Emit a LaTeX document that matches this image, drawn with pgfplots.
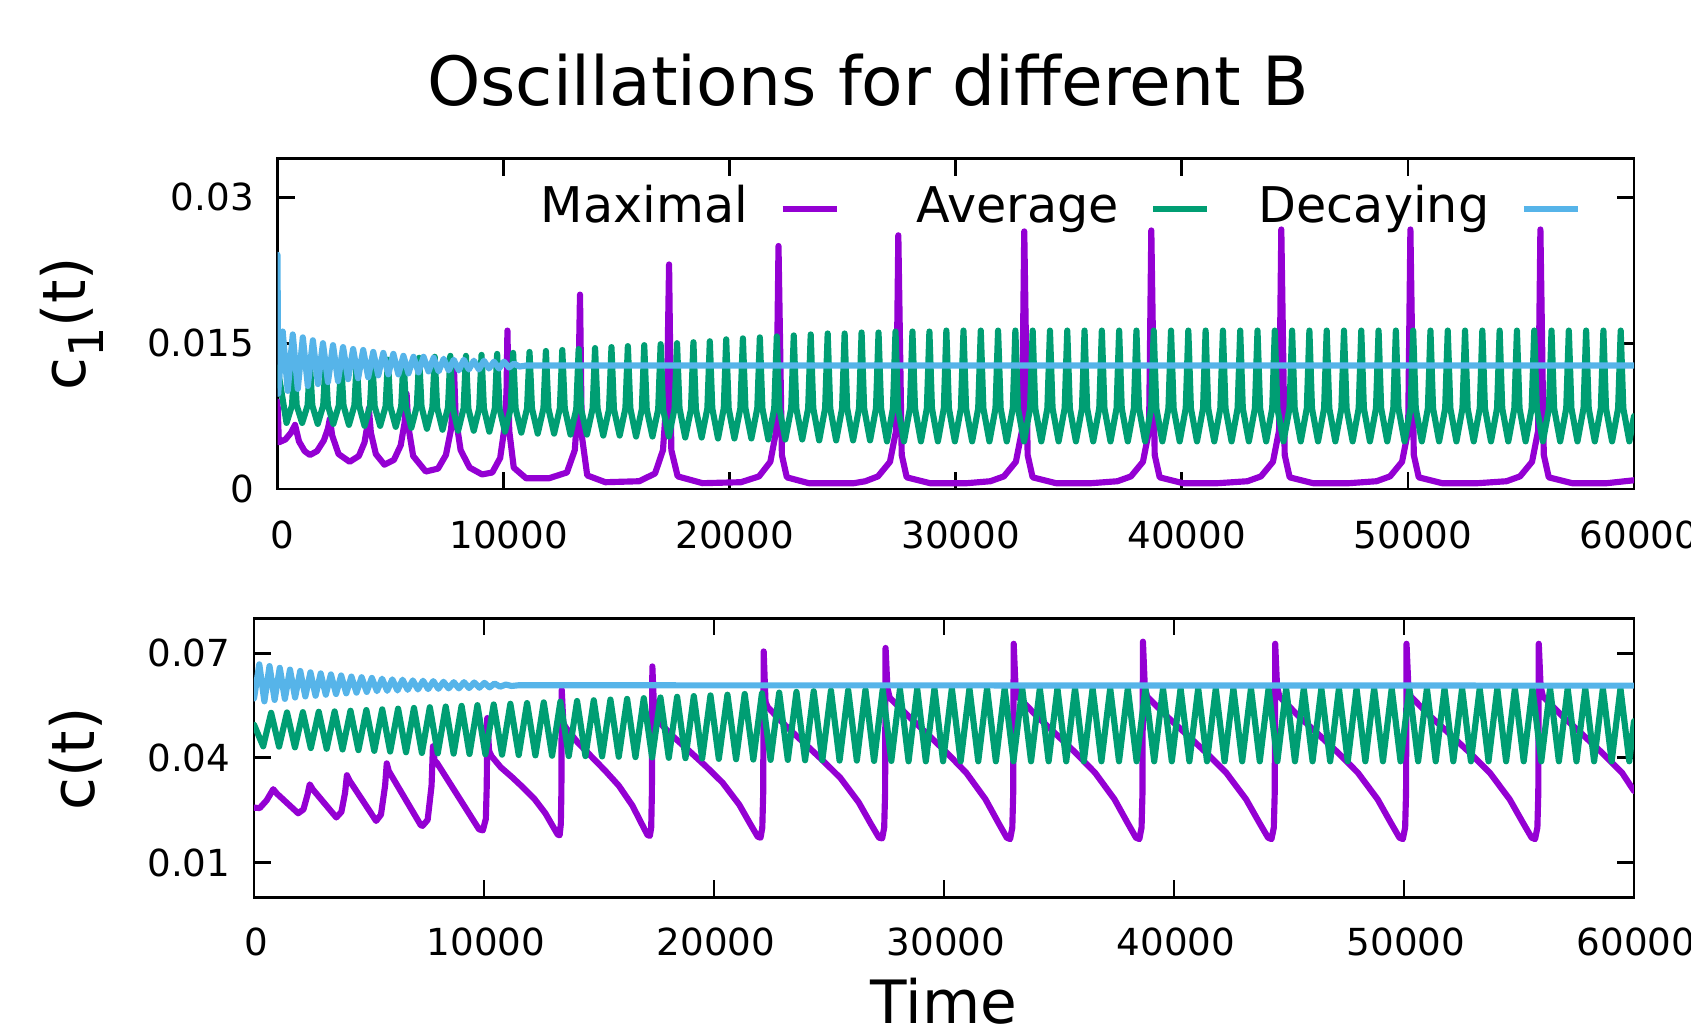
\documentclass[border=0pt]{standalone}
\usepackage{fontspec}
\setmainfont{DejaVu Sans}
\usepackage{pgfplots}
\pgfplotsset{compat=1.18}
\usepackage{pgfplotstable}
\definecolor{cMax}{RGB}{148,0,211}
\definecolor{cAvg}{RGB}{0,158,115}
\definecolor{cDec}{RGB}{86,180,233}

% ---------------- top panel: c1(t) ----------------
\pgfplotstableread[row sep=\\]{t y\\
0 0.0090\\ 60 0.0048\\ 350 0.0051\\ 600 0.0058\\ 776 0.0066\\ 950 0.0049\\ 1200 0.0039\\ 1435 0.0035\\
1750 0.0039\\ 2050 0.0050\\ 2230 0.0062\\ 2313 0.0072\\ 2420 0.0055\\ 2700 0.0036\\ 3192 0.0028\\
3600 0.0034\\ 3850 0.0048\\ 3980 0.0066\\ 4041 0.0083\\ 4130 0.0058\\ 4350 0.0036\\ 4729 0.0025\\
5150 0.0030\\ 5450 0.0045\\ 5620 0.0068\\ 5710 0.0098\\ 5790 0.0064\\ 6000 0.0034\\ 6559 0.0018\\
7100 0.0021\\ 7450 0.0035\\ 7680 0.0062\\ 7760 0.0090\\ 7804 0.0125\\ 7880 0.0074\\ 8100 0.0040\\
8500 0.0022\\ 9048 0.0015\\ 9500 0.0017\\ 9850 0.0032\\ 10050 0.0065\\ 10130 0.0100\\ 10170 0.0163\\
10250 0.0060\\ 10450 0.0022\\ 11000 0.0011\\ 12000 0.0011\\ 12800 0.0017\\ 13150 0.0040\\ 13300 0.0091\\
13380 0.0200\\ 13460 0.0055\\ 13700 0.0014\\ 14500 0.0007\\ 16000 0.0008\\ 16700 0.0016\\ 17050 0.0040\\
17230 0.0100\\ 17320 0.0231\\ 17420 0.0040\\ 17700 0.0013\\ 18800 0.0006\\ 20500 0.0007\\ 21300 0.0013\\
21800 0.0028\\ 22060 0.0060\\ 22160 0.0250\\ 22310 0.0035\\ 22530 0.0012\\ 23500 0.0006\\ 25500 0.0006\\
26000 0.0008\\ 26560 0.0013\\ 27090 0.0028\\ 27360 0.0060\\ 27460 0.0261\\ 27610 0.0035\\ 27830 0.0012\\
28860 0.0006\\ 30500 0.0006\\ 31530 0.0008\\ 32130 0.0013\\ 32660 0.0028\\ 32930 0.0060\\ 33030 0.0265\\
33180 0.0035\\ 33400 0.0012\\ 34430 0.0006\\ 36000 0.0006\\ 37150 0.0008\\ 37750 0.0013\\ 38280 0.0028\\
38550 0.0060\\ 38650 0.0266\\ 38800 0.0035\\ 39020 0.0012\\ 40050 0.0006\\ 41600 0.0006\\ 42900 0.0008\\
43500 0.0013\\ 44030 0.0028\\ 44300 0.0060\\ 44400 0.0267\\ 44550 0.0035\\ 44770 0.0012\\ 45800 0.0006\\
47400 0.0006\\ 48610 0.0008\\ 49210 0.0013\\ 49740 0.0028\\ 50010 0.0060\\ 50110 0.0267\\ 50260 0.0035\\
50480 0.0012\\ 51510 0.0006\\ 53100 0.0006\\ 54360 0.0008\\ 54960 0.0013\\ 55490 0.0028\\ 55760 0.0060\\
55860 0.0267\\ 56010 0.0035\\ 56230 0.0012\\ 57260 0.0006\\ 58800 0.0006\\ 60000 0.0009\\
}\topmax

\pgfplotstableread[row sep=\\]{t y\\
0 0.0125\\
400 0.0068\\ 642 0.0086\\ 745 0.0129\\ 849 0.0086\\
1090 0.0068\\ 1332 0.0086\\ 1435 0.0129\\ 1539 0.0086\\
1780 0.0067\\ 2022 0.0086\\ 2125 0.0130\\ 2229 0.0086\\
2470 0.0067\\ 2712 0.0086\\ 2815 0.0130\\ 2919 0.0086\\
3160 0.0066\\ 3402 0.0086\\ 3505 0.0131\\ 3609 0.0086\\
3850 0.0065\\ 4092 0.0085\\ 4195 0.0132\\ 4299 0.0085\\
4540 0.0065\\ 4782 0.0085\\ 4885 0.0133\\ 4989 0.0085\\
5230 0.0064\\ 5472 0.0085\\ 5575 0.0134\\ 5679 0.0085\\
5920 0.0063\\ 6162 0.0085\\ 6265 0.0135\\ 6369 0.0085\\
6610 0.0062\\ 6852 0.0084\\ 6955 0.0136\\ 7059 0.0084\\
7300 0.0061\\ 7542 0.0084\\ 7645 0.0137\\ 7749 0.0084\\
7990 0.0060\\ 8232 0.0083\\ 8335 0.0137\\ 8439 0.0083\\
8680 0.0060\\ 8922 0.0083\\ 9025 0.0138\\ 9129 0.0083\\
9370 0.0059\\ 9612 0.0083\\ 9715 0.0139\\ 9819 0.0083\\
10060 0.0059\\ 10314 0.0083\\ 10422 0.0140\\ 10531 0.0083\\
10785 0.0058\\ 11039 0.0083\\ 11147 0.0141\\ 11256 0.0083\\
11510 0.0057\\ 11764 0.0083\\ 11872 0.0142\\ 11981 0.0083\\
12235 0.0057\\ 12489 0.0083\\ 12597 0.0143\\ 12706 0.0083\\
12960 0.0056\\ 13214 0.0082\\ 13322 0.0144\\ 13431 0.0082\\
13685 0.0056\\ 13939 0.0083\\ 14047 0.0145\\ 14156 0.0083\\
14410 0.0055\\ 14664 0.0082\\ 14772 0.0146\\ 14881 0.0082\\
15135 0.0055\\ 15389 0.0083\\ 15497 0.0147\\ 15606 0.0083\\
15860 0.0054\\ 16114 0.0082\\ 16222 0.0148\\ 16331 0.0082\\
16585 0.0054\\ 16839 0.0082\\ 16947 0.0149\\ 17056 0.0082\\
17310 0.0054\\ 17564 0.0083\\ 17672 0.0150\\ 17781 0.0083\\
18035 0.0053\\ 18289 0.0082\\ 18397 0.0151\\ 18506 0.0082\\
18760 0.0053\\ 19014 0.0083\\ 19122 0.0152\\ 19231 0.0083\\
19485 0.0052\\ 19739 0.0083\\ 19847 0.0154\\ 19956 0.0083\\
20210 0.0052\\ 20472 0.0083\\ 20585 0.0155\\ 20698 0.0083\\
20960 0.0052\\ 21222 0.0083\\ 21335 0.0156\\ 21448 0.0083\\
21710 0.0051\\ 21972 0.0083\\ 22085 0.0157\\ 22198 0.0083\\
22460 0.0051\\ 22722 0.0083\\ 22835 0.0158\\ 22948 0.0083\\
23210 0.0051\\ 23472 0.0083\\ 23585 0.0159\\ 23698 0.0083\\
23960 0.0050\\ 24222 0.0083\\ 24335 0.0160\\ 24448 0.0083\\
24710 0.0050\\ 24972 0.0083\\ 25085 0.0160\\ 25198 0.0083\\
25460 0.0050\\ 25722 0.0083\\ 25835 0.0161\\ 25948 0.0083\\
26210 0.0050\\ 26472 0.0083\\ 26585 0.0161\\ 26698 0.0083\\
26960 0.0049\\ 27222 0.0083\\ 27335 0.0162\\ 27448 0.0083\\
27710 0.0049\\ 27972 0.0083\\ 28085 0.0162\\ 28198 0.0083\\
28460 0.0049\\ 28722 0.0083\\ 28835 0.0162\\ 28948 0.0083\\
29210 0.0049\\ 29472 0.0083\\ 29585 0.0163\\ 29698 0.0083\\
29960 0.0049\\ 30228 0.0083\\ 30342 0.0163\\ 30457 0.0083\\
30725 0.0049\\ 30993 0.0083\\ 31107 0.0163\\ 31222 0.0083\\
31490 0.0049\\ 31758 0.0083\\ 31872 0.0163\\ 31987 0.0083\\
32255 0.0049\\ 32523 0.0083\\ 32637 0.0163\\ 32752 0.0083\\
33020 0.0049\\ 33288 0.0083\\ 33402 0.0163\\ 33517 0.0083\\
33785 0.0049\\ 34053 0.0083\\ 34167 0.0163\\ 34282 0.0083\\
34550 0.0049\\ 34818 0.0083\\ 34932 0.0163\\ 35047 0.0083\\
35315 0.0049\\ 35583 0.0083\\ 35697 0.0163\\ 35812 0.0083\\
36080 0.0049\\ 36348 0.0083\\ 36462 0.0163\\ 36577 0.0083\\
36845 0.0049\\ 37113 0.0083\\ 37227 0.0163\\ 37342 0.0083\\
37610 0.0049\\ 37878 0.0083\\ 37992 0.0163\\ 38107 0.0083\\
38375 0.0049\\ 38643 0.0083\\ 38757 0.0163\\ 38872 0.0083\\
39140 0.0049\\ 39408 0.0083\\ 39522 0.0163\\ 39637 0.0083\\
39905 0.0049\\ 40173 0.0083\\ 40287 0.0163\\ 40402 0.0083\\
40670 0.0049\\ 40938 0.0083\\ 41052 0.0163\\ 41167 0.0083\\
41435 0.0049\\ 41703 0.0083\\ 41817 0.0163\\ 41932 0.0083\\
42200 0.0049\\ 42468 0.0083\\ 42582 0.0163\\ 42697 0.0083\\
42965 0.0049\\ 43233 0.0083\\ 43347 0.0163\\ 43462 0.0083\\
43730 0.0049\\ 43998 0.0083\\ 44112 0.0163\\ 44227 0.0083\\
44495 0.0049\\ 44763 0.0083\\ 44877 0.0163\\ 44992 0.0083\\
45260 0.0049\\ 45528 0.0083\\ 45642 0.0163\\ 45757 0.0083\\
46025 0.0049\\ 46293 0.0083\\ 46407 0.0163\\ 46522 0.0083\\
46790 0.0049\\ 47058 0.0083\\ 47172 0.0163\\ 47287 0.0083\\
47555 0.0049\\ 47823 0.0083\\ 47937 0.0163\\ 48052 0.0083\\
48320 0.0049\\ 48588 0.0083\\ 48702 0.0163\\ 48817 0.0083\\
49085 0.0049\\ 49353 0.0083\\ 49467 0.0163\\ 49582 0.0083\\
49850 0.0049\\ 50118 0.0083\\ 50232 0.0163\\ 50347 0.0083\\
50615 0.0049\\ 50883 0.0083\\ 50997 0.0163\\ 51112 0.0083\\
51380 0.0049\\ 51648 0.0083\\ 51762 0.0163\\ 51877 0.0083\\
52145 0.0049\\ 52413 0.0083\\ 52527 0.0163\\ 52642 0.0083\\
52910 0.0049\\ 53178 0.0083\\ 53292 0.0163\\ 53407 0.0083\\
53675 0.0049\\ 53943 0.0083\\ 54057 0.0163\\ 54172 0.0083\\
54440 0.0049\\ 54708 0.0083\\ 54822 0.0163\\ 54937 0.0083\\
55205 0.0049\\ 55473 0.0083\\ 55587 0.0163\\ 55702 0.0083\\
55970 0.0049\\ 56238 0.0083\\ 56352 0.0163\\ 56467 0.0083\\
56735 0.0049\\ 57003 0.0083\\ 57117 0.0163\\ 57232 0.0083\\
57500 0.0049\\ 57768 0.0083\\ 57882 0.0163\\ 57997 0.0083\\
58265 0.0049\\ 58533 0.0083\\ 58647 0.0163\\ 58762 0.0083\\
59030 0.0049\\ 59298 0.0083\\ 59412 0.0163\\ 59527 0.0083\\
59795 0.0049\\ 60000 0.0075\\
}\topavg

\pgfplotstableread[row sep=\\]{t y\\
0 0.0241\\ 30 0.0098\\ 230 0.0162\\ 452 0.0101\\ 675 0.0159\\ 897 0.0103\\ 1120 0.0156\\ 1342 0.0106\\
1565 0.0153\\ 1787 0.0108\\ 2010 0.0150\\ 2232 0.0110\\ 2455 0.0148\\ 2677 0.0111\\ 2900 0.0146\\
3122 0.0113\\ 3345 0.0144\\ 3567 0.0114\\ 3790 0.0143\\ 4012 0.0115\\ 4235 0.0141\\ 4457 0.0117\\
4680 0.0140\\ 4902 0.0118\\ 5125 0.0139\\ 5347 0.0118\\ 5570 0.0137\\ 5792 0.0119\\ 6015 0.0136\\
6237 0.0120\\ 6460 0.0136\\ 6682 0.0121\\ 6905 0.0135\\ 7127 0.0121\\ 7350 0.0134\\ 7572 0.0122\\
7795 0.0133\\ 8017 0.0122\\ 8240 0.0133\\ 8462 0.0123\\ 8685 0.0132\\ 8907 0.0123\\ 9130 0.0132\\
9352 0.0124\\ 9575 0.0131\\ 9797 0.0124\\ 10020 0.0131\\ 10240 0.0125\\ 10460 0.0129\\ 10700 0.0126\\
11000 0.0127\\ 60000 0.0127\\
}\topdec

% ---------------- bottom panel: c(t) ----------------
\pgfplotstableread[row sep=\\]{t y\\
0 0.0257\\ 250 0.0256\\ 550 0.0278\\ 837 0.0310\\ 1000 0.0297\\ 1919 0.0241\\ 2150 0.0252\\ 2330 0.0295\\
2424 0.0324\\ 2550 0.0310\\ 3579 0.0229\\ 3800 0.0245\\ 3960 0.0300\\ 4040 0.0350\\ 4150 0.0335\\
5310 0.0219\\ 5520 0.0237\\ 5700 0.0320\\ 5772 0.0384\\ 5860 0.0362\\ 7250 0.0207\\ 7330 0.0205\\
7550 0.0222\\ 7720 0.0320\\ 7780 0.0433\\ 7850 0.0392\\ 7950 0.0386\\ 9784 0.0195\\ 9950 0.0192\\
10080 0.0225\\ 10120 0.0320\\ 10144 0.0514\\ 10220 0.0420\\ 10324 0.0405\\ 10726 0.0373\\ 11212 0.0345\\
11697 0.0315\\ 12183 0.0283\\ 12668 0.0241\\ 12992 0.0204\\ 13205 0.0180\\ 13289 0.0178\\ 13340 0.0210\\
13365 0.0300\\ 13380 0.0595\\ 13450 0.0500\\ 13560 0.0486\\ 14089 0.0443\\ 14680 0.0403\\ 15271 0.0363\\
15862 0.0320\\ 16453 0.0263\\ 16847 0.0212\\ 17107 0.0179\\ 17210 0.0176\\ 17270 0.0200\\ 17300 0.0300\\
17320 0.0662\\ 17400 0.0530\\ 17500 0.0510\\ 18191 0.0463\\ 18917 0.0420\\ 19643 0.0376\\ 20369 0.0329\\
21095 0.0266\\ 21579 0.0210\\ 21899 0.0174\\ 22024 0.0171\\ 22100 0.0200\\ 22140 0.0300\\ 22160 0.0705\\
22240 0.0560\\ 22340 0.0545\\ 23114 0.0492\\ 23909 0.0443\\ 24704 0.0394\\ 25499 0.0342\\ 26294 0.0272\\
26824 0.0210\\ 27174 0.0171\\ 27312 0.0169\\ 27400 0.0200\\ 27440 0.0300\\ 27460 0.0715\\ 27540 0.0600\\
27640 0.0572\\ 28463 0.0519\\ 29298 0.0467\\ 30134 0.0414\\ 30969 0.0357\\ 31805 0.0281\\ 32362 0.0214\\
32729 0.0171\\ 32874 0.0167\\ 32970 0.0200\\ 33010 0.0300\\ 33030 0.0727\\ 33110 0.0605\\ 33210 0.0576\\
34042 0.0519\\ 34885 0.0467\\ 35728 0.0414\\ 36571 0.0357\\ 37414 0.0281\\ 37976 0.0214\\ 38347 0.0171\\
38493 0.0167\\ 38590 0.0200\\ 38630 0.0300\\ 38650 0.0733\\ 38730 0.0605\\ 38830 0.0576\\ 39685 0.0519\\
40548 0.0467\\ 41410 0.0414\\ 42273 0.0357\\ 43135 0.0281\\ 43710 0.0214\\ 44090 0.0171\\ 44239 0.0167\\
44340 0.0200\\ 44380 0.0300\\ 44400 0.0727\\ 44480 0.0605\\ 44580 0.0576\\ 45428 0.0519\\ 46284 0.0467\\
47141 0.0414\\ 47997 0.0357\\ 48854 0.0281\\ 49425 0.0214\\ 49802 0.0171\\ 49950 0.0167\\ 50050 0.0200\\
50090 0.0300\\ 50110 0.0727\\ 50190 0.0605\\ 50290 0.0576\\ 51145 0.0519\\ 52008 0.0467\\ 52870 0.0414\\
53733 0.0357\\ 54595 0.0281\\ 55170 0.0214\\ 55550 0.0171\\ 55699 0.0167\\ 55800 0.0200\\ 55840 0.0300\\
55860 0.0727\\ 55940 0.0605\\ 56040 0.0576\\ 56895 0.0519\\ 57758 0.0467\\ 58620 0.0414\\ 59483 0.0357\\
60000 0.0305\\
}\botmax

\pgfplotstableread[row sep=\\]{t y\\
0 0.0495\\
400 0.0433\\ 745 0.0529\\ 1090 0.0432\\ 1435 0.0530\\ 1780 0.0430\\ 2125 0.0531\\ 2470 0.0428\\ 2815 0.0532\\
3160 0.0426\\ 3505 0.0533\\ 3850 0.0424\\ 4195 0.0535\\ 4540 0.0422\\ 4885 0.0537\\ 5230 0.0420\\ 5575 0.0539\\
5920 0.0418\\ 6265 0.0541\\ 6610 0.0416\\ 6955 0.0543\\ 7300 0.0414\\ 7645 0.0545\\ 7990 0.0413\\ 8335 0.0547\\
8680 0.0412\\ 9025 0.0549\\ 9370 0.0411\\ 9715 0.0551\\ 10060 0.0410\\ 10422 0.0553\\ 10785 0.0409\\ 11147 0.0555\\
11510 0.0408\\ 11872 0.0557\\ 12235 0.0407\\ 12597 0.0559\\ 12960 0.0406\\ 13322 0.0561\\ 13685 0.0405\\ 14047 0.0563\\
14410 0.0405\\ 14772 0.0565\\ 15135 0.0404\\ 15497 0.0567\\ 15860 0.0403\\ 16222 0.0569\\ 16585 0.0402\\ 16947 0.0571\\
17310 0.0401\\ 17672 0.0573\\ 18035 0.0400\\ 18397 0.0575\\ 18760 0.0399\\ 19122 0.0577\\ 19485 0.0398\\ 19847 0.0579\\
20210 0.0397\\ 20585 0.0581\\ 20960 0.0396\\ 21335 0.0583\\ 21710 0.0395\\ 22085 0.0585\\ 22460 0.0394\\ 22835 0.0587\\
23210 0.0394\\ 23585 0.0589\\ 23960 0.0393\\ 24335 0.0591\\ 24710 0.0393\\ 25085 0.0593\\ 25460 0.0392\\ 25835 0.0594\\
26210 0.0392\\ 26585 0.0595\\ 26960 0.0391\\ 27335 0.0596\\ 27710 0.0391\\ 28085 0.0597\\ 28460 0.0390\\ 28835 0.0598\\
29210 0.0390\\ 29585 0.0599\\ 29960 0.0390\\ 30342 0.0599\\ 30725 0.0390\\ 31107 0.0599\\ 31490 0.0390\\ 31872 0.0599\\
32255 0.0390\\ 32637 0.0599\\ 33020 0.0390\\ 33402 0.0599\\ 33785 0.0390\\ 34167 0.0599\\ 34550 0.0390\\ 34932 0.0599\\
35315 0.0390\\ 35697 0.0599\\ 36080 0.0390\\ 36462 0.0599\\ 36845 0.0390\\ 37227 0.0599\\ 37610 0.0390\\ 37992 0.0599\\
38375 0.0390\\ 38757 0.0599\\ 39140 0.0390\\ 39522 0.0599\\ 39905 0.0390\\ 40287 0.0599\\ 40670 0.0390\\ 41052 0.0599\\
41435 0.0390\\ 41817 0.0599\\ 42200 0.0390\\ 42582 0.0599\\ 42965 0.0390\\ 43347 0.0599\\ 43730 0.0390\\ 44112 0.0599\\
44495 0.0390\\ 44877 0.0599\\ 45260 0.0390\\ 45642 0.0599\\ 46025 0.0390\\ 46407 0.0599\\ 46790 0.0390\\ 47172 0.0599\\
47555 0.0390\\ 47937 0.0599\\ 48320 0.0390\\ 48702 0.0599\\ 49085 0.0390\\ 49467 0.0599\\ 49850 0.0390\\ 50232 0.0599\\
50615 0.0390\\ 50997 0.0599\\ 51380 0.0390\\ 51762 0.0599\\ 52145 0.0390\\ 52527 0.0599\\ 52910 0.0390\\ 53292 0.0599\\
53675 0.0390\\ 54057 0.0599\\ 54440 0.0390\\ 54822 0.0599\\ 55205 0.0390\\ 55587 0.0599\\ 55970 0.0390\\ 56352 0.0599\\
56735 0.0390\\ 57117 0.0599\\ 57500 0.0390\\ 57882 0.0599\\ 58265 0.0390\\ 58647 0.0599\\ 59030 0.0390\\ 59412 0.0599\\
59795 0.0390\\ 60000 0.0505\\
}\botavg

\pgfplotstableread[row sep=\\]{t y\\
0 0.0570\\ 230 0.0668\\ 452 0.0562\\ 675 0.0663\\ 897 0.0566\\ 1120 0.0658\\ 1342 0.0569\\ 1565 0.0653\\
1787 0.0573\\ 2010 0.0649\\ 2232 0.0576\\ 2455 0.0645\\ 2677 0.0578\\ 2900 0.0642\\ 3122 0.0581\\ 3345 0.0639\\
3567 0.0583\\ 3790 0.0636\\ 4012 0.0585\\ 4235 0.0633\\ 4457 0.0587\\ 4680 0.0631\\ 4902 0.0589\\ 5125 0.0629\\
5347 0.0591\\ 5570 0.0627\\ 5792 0.0592\\ 6015 0.0625\\ 6237 0.0593\\ 6460 0.0624\\ 6682 0.0595\\ 6905 0.0622\\
7127 0.0596\\ 7350 0.0621\\ 7572 0.0597\\ 7795 0.0620\\ 8017 0.0598\\ 8240 0.0618\\ 8462 0.0599\\ 8685 0.0617\\
8907 0.0599\\ 9130 0.0617\\ 9352 0.0600\\ 9575 0.0616\\ 9797 0.0601\\ 10020 0.0615\\ 10240 0.0602\\ 10460 0.0613\\
10700 0.0604\\ 10950 0.0610\\ 11200 0.0606\\ 11500 0.0608\\ 60000 0.0607\\
}\botdec

\pgfplotsset{
  panel/.style={
    scale only axis,
    xmin=0, xmax=60000,
    xtick={0,10000,20000,30000,40000,50000,60000},
    xticklabels={0,10000,20000,30000,40000,50000,60000},
    scaled ticks=false,
    tick align=inside,
    tick pos=both,
    xticklabel pos=lower, yticklabel pos=left,
    major tick length=1.7mm,
    minor tick num=0,
    axis line style={line width=0.8pt, black},
    every tick/.style={black, line width=0.8pt},
    tick label style={font=\fontsize{10.6}{12}\selectfont},
    yticklabel style={anchor=east, inner sep=0pt, xshift=-2.3mm},
  },
  dat/.style={line width=1.75pt, line join=round, line cap=round, no markers},
}

\begin{document}
\begin{tikzpicture}
\useasboundingbox (0,0) rectangle (169.1mm,-102.7mm);
\clip (0,0) rectangle (169.1mm,-102.7mm);

\node[anchor=base, inner sep=0pt, font=\fontsize{19.3}{23}\selectfont] at (86.8mm,-10.55mm) {Oscillations for different B};

\begin{axis}[panel,
  anchor=north west, at={(27.75mm,-15.85mm)},
  width=135.65mm, height=33.05mm,
  ymin=0, ymax=0.034,
  ytick={0,0.015,0.03},
  yticklabels={0,0.015,0.03},
  xticklabel style={anchor=base, inner sep=0pt, yshift=-5.9mm, xshift=0.5mm},
  legend columns=3,
  legend plot pos=right,
  legend image code/.code={\draw[#1, line cap=butt] (0mm,0mm) -- (5.4mm,0mm);},
  legend style={draw=none, fill=none, at={(0.9609,0.8463)}, anchor=east,
    inner sep=0pt, outer sep=0pt,
    font=\fontsize{14}{17}\selectfont,
    nodes={inner sep=0pt, text height=0.729em, text depth=0pt},
    cells={anchor=center},
    /tikz/every odd column/.append style={column sep=3.15mm},
    /tikz/every even column/.append style={column sep=4.75mm}},
]
\addplot[dat, color=cMax] table[x=t, y=y] {\topmax};
\addlegendentry{\makebox[23.15mm][r]{Maximal}}
\addplot[dat, color=cAvg] table[x=t, y=y] {\topavg};
\addlegendentry{\makebox[23.15mm][r]{Average}}
\addplot[dat, color=cDec] table[x=t, y=y] {\topdec};
\addlegendentry{\makebox[23.15mm][r]{Decaying}}
\end{axis}

\begin{axis}[panel,
  anchor=north west, at={(25.4mm,-61.83mm)},
  width=138.0mm, height=27.9mm,
  ymin=0, ymax=0.08,
  ytick={0.01,0.04,0.07},
  yticklabels={0.01,0.04,0.07},
  xticklabel style={anchor=base, inner sep=0pt, yshift=-5.82mm, xshift=0.2mm},
]
\addplot[dat, color=cMax] table[x=t, y=y] {\botmax};
\addplot[dat, color=cAvg] table[x=t, y=y] {\botavg};
\addplot[dat, color=cDec] table[x=t, y=y] {\botdec};
\end{axis}

\node[rotate=90, anchor=base, inner sep=0pt, font=\fontsize{17}{20}\selectfont] at (8.6mm,-32.38mm) {c\raisebox{-0.3em}{\fontsize{13.6}{15}\selectfont 1}(t)};
\node[rotate=90, anchor=base, inner sep=0pt, font=\fontsize{17}{20}\selectfont] at (9.4mm,-75.9mm) {c(t)};
\node[anchor=base, inner sep=0pt, font=\fontsize{17}{20}\selectfont] at (94.4mm,-102.3mm) {Time};
\end{tikzpicture}
\end{document}
